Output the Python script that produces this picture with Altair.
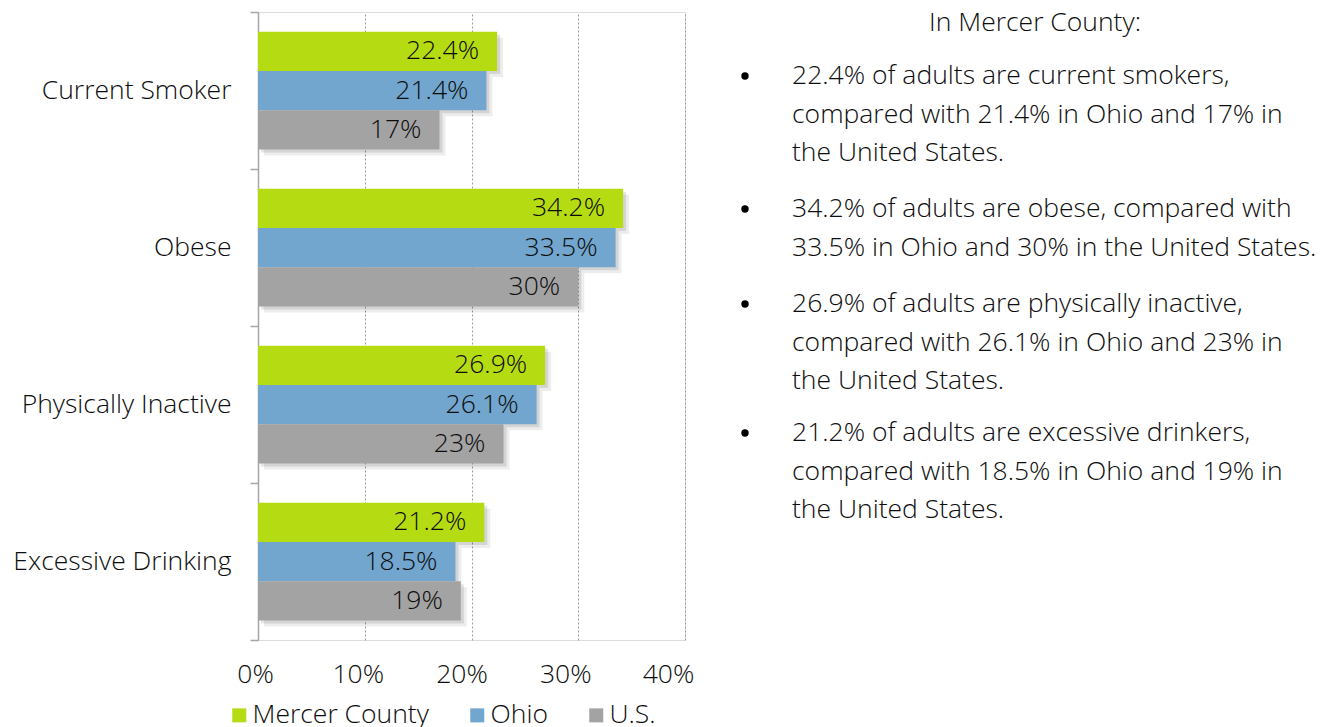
import altair as alt
import pandas as pd

categories = ["Current Smoker", "Obese", "Physically Inactive", "Excessive Drinking"]
series = ["Mercer County", "Ohio", "U.S."]
mercer = [22.4, 34.2, 26.9, 21.2]
ohio = [21.4, 33.5, 26.1, 18.5]
us = [17, 30, 23, 19]
colors = ["#b5dc12", "#72a6ce", "#a3a3a3"]
x_ticks = [0, 10, 20, 30, 40]

title_text = "In Mercer County:"
bullets = [
    ["22.4% of adults are current smokers,", "compared with 21.4% in Ohio and 17% in", "the United States."],
    ["34.2% of adults are obese, compared with", "33.5% in Ohio and 30% in the United States."],
    ["26.9% of adults are physically inactive,", "compared with 26.1% in Ohio and 23% in", "the United States."],
    ["21.2% of adults are excessive drinkers,", "compared with 18.5% in Ohio and 19% in", "the United States."],
]

rows = []
for s, vals in zip(series, [mercer, ohio, us]):
    for c, v in zip(categories, vals):
        rows.append({"category": c, "series": s, "value": v, "label": f"{v:g}%"})
df = pd.DataFrame(rows)

FONT = "Open Sans"
FS = 26.5
FW = 300
TXT = "#0d0d0d"
W, H = 427, 628
BAND = H / len(categories)

y_enc = alt.Y("category:N", sort=categories, title=None,
              scale=alt.Scale(paddingInner=0, paddingOuter=0),
              axis=alt.Axis(tickBand="extent", domainColor="#a6a6a6", domainWidth=1.5,
                            tickColor="#a6a6a6", tickWidth=1.5, tickSize=8,
                            labelPadding=19, labelFontSize=FS, labelColor=TXT,
                            labelFont=FONT, labelFontWeight=FW, labelLimit=400, grid=False))


def yoff(shift):
    return alt.YOffset("series:N", sort=series,
                       scale=alt.Scale(type="band", domain=series, paddingInner=0,
                                       paddingOuter=0.5, range=[shift, BAND + shift]))


x_label_offset = {
    "condition": [
        {"test": "datum.value == 10", "value": -7},
        {"test": "datum.value == 20", "value": -10},
        {"test": "datum.value == 30", "value": -13},
        {"test": "datum.value == 40", "value": -17},
    ],
    "value": -3,
}

x_enc = alt.X("value:Q", title=None,
              scale=alt.Scale(domain=[0, 40], nice=False),
              axis=alt.Axis(values=x_ticks, labelExpr="datum.value + '%'",
                            domain=False, ticks=False, grid=True, labelFlush=False,
                            gridColor="#9a9a9a", gridDash=[2, 2], gridWidth=1,
                            labelFontSize=FS, labelColor=TXT, labelFont=FONT,
                            labelFontWeight=FW, labelPadding=21,
                            labelOffset=x_label_offset))

base = alt.Chart(df)

shadow1 = base.mark_bar(color="#000000", opacity=0.07, xOffset=6).encode(
    y=y_enc, yOffset=yoff(6), x=x_enc)
shadow2 = base.mark_bar(color="#000000", opacity=0.10, xOffset=3).encode(
    y=y_enc, yOffset=yoff(3), x=x_enc)

bars = base.mark_bar().encode(
    y=y_enc, yOffset=yoff(0), x=x_enc,
    color=alt.Color("series:N", sort=series,
                    scale=alt.Scale(domain=series, range=colors),
                    legend=alt.Legend(title=None, orient="none", legendX=-32, legendY=690,
                                      direction="horizontal", symbolType="square",
                                      symbolSize=196, symbolStrokeWidth=0,
                                      labelFontSize=FS, labelFont=FONT, labelColor=TXT,
                                      labelFontWeight=FW, labelLimit=400,
                                      labelOffset=0, columnPadding=35)))

text = base.mark_text(align="right", baseline="middle", dx=-18, fontSize=FS,
                      font=FONT, fontWeight=FW, color=TXT).encode(
    y=y_enc, yOffset=yoff(0), x=x_enc, text="label:N")

layers = [shadow1, shadow2, bars, text]

# Right-hand annotation text
layers.append(alt.Chart(pd.DataFrame({"t": [title_text]})).mark_text(
    align="center", baseline="middle", fontSize=FS, font=FONT, fontWeight=FW,
    color=TXT).encode(text="t:N", x=alt.value(777), y=alt.value(11)))

para_y = [64, 197, 292, 421]
for lines, py in zip(bullets, para_y):
    layers.append(alt.Chart(pd.DataFrame({"t": ["•"]})).mark_circle(
        size=55, color="#000000", opacity=1).encode(
        x=alt.value(487), y=alt.value(py)))
    layers.append(alt.Chart(pd.DataFrame({"t": ["\n".join(lines)]})).mark_text(
        align="left", baseline="middle", fontSize=FS, font=FONT, fontWeight=FW,
        color=TXT, lineBreak="\n", lineHeight=38.5).encode(
        text="t:N", x=alt.value(534), y=alt.value(py)))

chart = alt.layer(*layers).resolve_scale(yOffset="independent").properties(
    width=W, height=H,
    autosize=alt.AutoSizeParams(type="none"),
    padding={"left": 250, "top": 4, "right": 640, "bottom": 87},
).configure_view(stroke=None).configure(font=FONT)

chart.save("out.html", embed_options={"renderer": "svg", "actions": False})
